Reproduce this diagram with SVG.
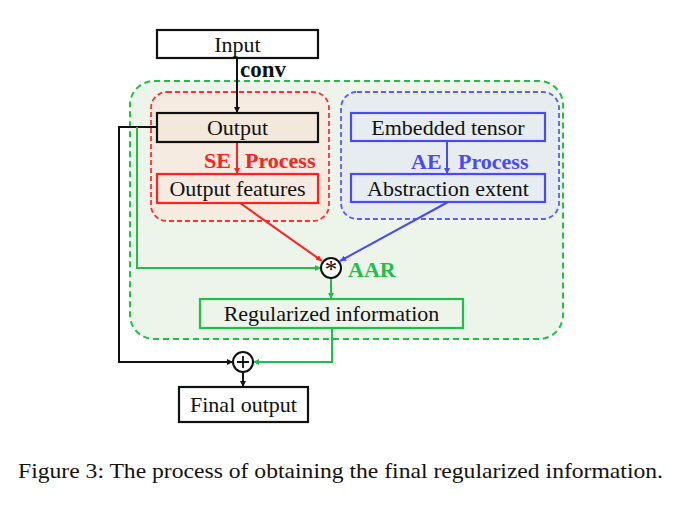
<svg xmlns="http://www.w3.org/2000/svg" width="694" height="506" viewBox="0 0 694 506">
<defs>
<marker id="ak" viewBox="0 0 10 10" refX="10" refY="5" markerWidth="6" markerHeight="6" markerUnits="userSpaceOnUse" orient="auto"><path d="M0,0 L10,5 L0,10 z" fill="#111"/></marker>
<marker id="ar" viewBox="0 0 10 10" refX="10" refY="5" markerWidth="6" markerHeight="6" markerUnits="userSpaceOnUse" orient="auto"><path d="M0,0 L10,5 L0,10 z" fill="#ff2020"/></marker>
<marker id="ab" viewBox="0 0 10 10" refX="10" refY="5" markerWidth="6" markerHeight="6" markerUnits="userSpaceOnUse" orient="auto"><path d="M0,0 L10,5 L0,10 z" fill="#4a4af5"/></marker>
<marker id="ag" viewBox="0 0 10 10" refX="10" refY="5" markerWidth="6" markerHeight="6" markerUnits="userSpaceOnUse" orient="auto"><path d="M0,0 L10,5 L0,10 z" fill="#1fbf4a"/></marker>
</defs>
<style>
.t{font-family:"Liberation Serif","Times New Roman",serif;font-size:22px;fill:#111;text-anchor:middle}
.b{font-family:"Liberation Serif","Times New Roman",serif;font-size:22px;font-weight:bold}
.k{stroke:#111;stroke-width:2;fill:none}
.box{stroke-width:2.2;fill:#fff}
</style>
<rect width="694" height="506" fill="#fff"/>
<g id="region-aar"><rect x="130" y="81" width="433" height="258" rx="24" fill="#edf4ea" stroke="#1fbf4a" stroke-width="2" stroke-dasharray="6,4"/></g>
<g id="region-se"><rect x="151" y="92" width="178" height="129" rx="16" fill="#f5ebe1" stroke="#ff3030" stroke-width="1.8" stroke-dasharray="5,3"/></g>
<g id="region-ae"><rect x="341" y="92" width="218" height="127" rx="16" fill="#e6ecf0" stroke="#5a5af5" stroke-width="1.8" stroke-dasharray="5,3"/></g>
<g id="connectors">
<path d="M237,58 V113" class="k" marker-end="url(#ak)"/>
<path d="M157,127 H119 V362 H233" class="k" marker-end="url(#ak)"/>
<path d="M237,142 V174" stroke="#ff2020" stroke-width="2" fill="none" marker-end="url(#ar)"/>
<path d="M447,141 V174" stroke="#4a4af5" stroke-width="2" fill="none" marker-end="url(#ab)"/>
<path d="M240,203 L322,261" stroke="#ff2020" stroke-width="2" fill="none" marker-end="url(#ar)"/>
<path d="M448,202 L340,261" stroke="#4a4af5" stroke-width="2" fill="none" marker-end="url(#ab)"/>
<path d="M137,127 V268 H321" stroke="#1fbf4a" stroke-width="2" fill="none" marker-end="url(#ag)"/>
<path d="M331,278 V299" stroke="#1fbf4a" stroke-width="2" fill="none" marker-end="url(#ag)"/>
<path d="M332,328 V362 H253" stroke="#1fbf4a" stroke-width="2" fill="none" marker-end="url(#ag)"/>
<path d="M243,372 V387" class="k" marker-end="url(#ak)"/>
<text x="240" y="77" class="b" fill="#111" style="font-size:23px">conv</text>
<text x="204" y="168" class="b" fill="#ff2020">SE</text>
<text x="245" y="168" class="b" fill="#ff2020">Process</text>
<text x="411" y="169" class="b" fill="#4a4af5">AE</text>
<text x="458" y="169" class="b" fill="#4a4af5">Process</text>
<text x="348" y="277" class="b" fill="#1fbf4a">AAR</text>
</g>
<g id="input"><rect x="157" y="30" width="161" height="28" class="box" stroke="#111"/><text x="237.5" y="52" class="t">Input</text></g>
<g id="output"><rect x="157" y="113" width="161" height="29" class="box" stroke="#111" style="fill:#f2e8dc"/><text x="237.5" y="135" class="t">Output</text></g>
<g id="output-features"><rect x="157" y="174" width="161" height="29" class="box" stroke="#ff2020" style="fill:#f5ebe1"/><text x="237.5" y="196" class="t">Output features</text></g>
<g id="embedded-tensor"><rect x="351" y="113" width="194" height="28" class="box" stroke="#4a4af5" style="fill:#e6ecf0"/><text x="448" y="135" class="t">Embedded tensor</text></g>
<g id="abstraction-extent"><rect x="351" y="174" width="194" height="28" class="box" stroke="#4a4af5" style="fill:#e6ecf0"/><text x="448" y="196" class="t">Abstraction extent</text></g>
<g id="mult"><circle cx="331" cy="268" r="10" fill="#fff" stroke="#111" stroke-width="2"/><text x="331" y="278" class="t" style="font-size:25px">*</text></g>
<g id="regularized"><rect x="200" y="299" width="263" height="29" class="box" stroke="#1fbf4a" style="fill:#edf4ea"/><text x="331.5" y="321" class="t">Regularized information</text></g>
<g id="add"><circle cx="243" cy="362" r="10" fill="#fff" stroke="#111" stroke-width="2"/><path d="M237,362 H249 M243,356 V368" stroke="#111" stroke-width="1.8"/></g>
<g id="final-output"><rect x="179" y="387" width="129" height="35" class="box" stroke="#111"/><text x="243.5" y="412" class="t">Final output</text></g>
<text x="18" y="478" style="font-family:'Liberation Serif','Times New Roman',serif;font-size:22px;fill:#111" textLength="645" lengthAdjust="spacingAndGlyphs">Figure 3: The process of obtaining the final regularized information.</text>
</svg>
